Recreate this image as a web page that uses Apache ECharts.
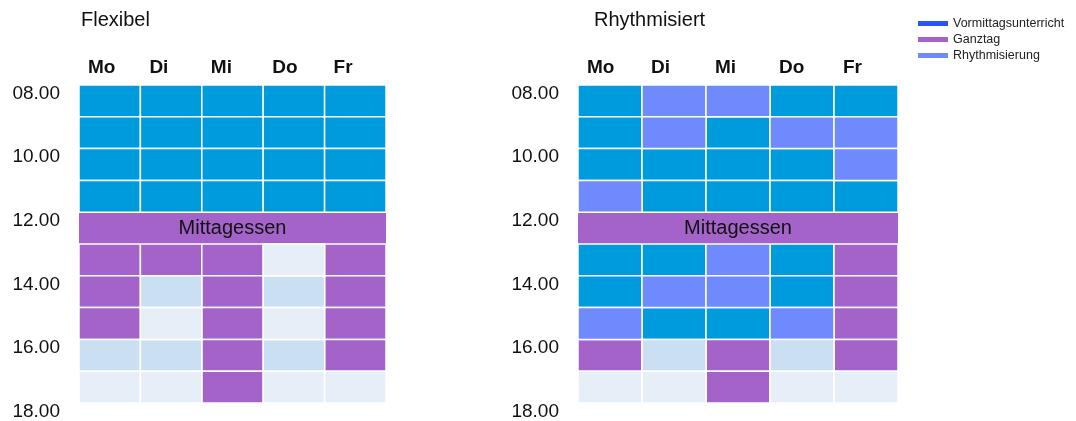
<!DOCTYPE html>
<html>
<head>
<meta charset="utf-8">
<script src="https://cdn.jsdelivr.net/npm/echarts@6/dist/echarts.min.js"></script>
<style>
  html, body { margin: 0; padding: 0; background: #fff; }
  #chart { width: 1076px; height: 421px; }
</style>
</head>
<body>
<div id="chart"></div>
<script>
// Stundenplan: eine Zeile pro Stunde ab 08.00
// V = Vormittagsunterricht, G = Ganztag, R = Rhythmisierung, M = Mittagessen, A/B = frei
var days = ["Mo", "Di", "Mi", "Do", "Fr"];
var hourTicks = ["08.00", "10.00", "12.00", "14.00", "16.00", "18.00"];
var startHour = 8;
var endHour = 18;
var titles = ["Flexibel", "Rhythmisiert"];

var flexibel = [
    ["V", "V", "V", "V", "V"],
    ["V", "V", "V", "V", "V"],
    ["V", "V", "V", "V", "V"],
    ["V", "V", "V", "V", "V"],
    ["M", "M", "M", "M", "M"],
    ["G", "G", "G", "B", "G"],
    ["G", "A", "G", "A", "G"],
    ["G", "B", "G", "B", "G"],
    ["A", "A", "G", "A", "G"],
    ["B", "B", "G", "B", "B"],
];

var rhythmisiert = [
    ["V", "R", "R", "V", "V"],
    ["V", "R", "V", "R", "R"],
    ["V", "V", "V", "V", "R"],
    ["R", "V", "V", "V", "V"],
    ["M", "M", "M", "M", "M"],
    ["V", "V", "R", "V", "G"],
    ["V", "R", "R", "V", "G"],
    ["R", "V", "V", "R", "G"],
    ["G", "A", "G", "A", "G"],
    ["B", "B", "G", "B", "B"],
];

var seriesNames = {
    V: "Vormittagsunterricht",
    G: "Ganztag",
    R: "Rhythmisierung",
    M: "Mittagessen",
    A: "frei",
    B: "frei ",
};
var cellColors = {
    V: "#009bdc",
    G: "#a463c9",
    R: "#6f8afd",
    M: "#a463c9",
    A: "#cbdff2",
    B: "#e6eef8",
};
var legendColors = {
    V: "#2a55f5",
    G: "#a463c9",
    R: "#6f8afd",
};

var fontFamily = "'Liberation Sans', Arial, sans-serif";

function cellRenderer(code) {
    return function (params, api) {
        var day = api.value(0);
        var hour = api.value(1);
        var span = api.value(2);
        var p = api.coord([day, hour]);
        var bw = api.size([1, 0])[0];
        var hh = api.size([0, 1])[1];
        if (code === "M") {
            // Mittagessen als durchgehender Block
            return {
                type: "group",
                children: [
                    {
                        type: "rect",
                        shape: { x: p[0] - bw / 2, y: p[1] + 0.75, width: bw * span, height: hh - 1.5 },
                        style: { fill: cellColors.M },
                    },
                    {
                        type: "text",
                        z2: 10,
                        style: {
                            text: seriesNames.M,
                            x: p[0] - bw / 2 + (bw * span) / 2,
                            y: p[1] + hh / 2,
                            align: "center",
                            verticalAlign: "middle",
                            fill: "#111",
                            fontSize: 20,
                            fontFamily: fontFamily,
                        },
                    },
                ],
            };
        }
        return {
            type: "rect",
            shape: { x: p[0] - bw / 2, y: p[1], width: bw * span, height: hh },
            style: { fill: cellColors[code], stroke: "#fff", lineWidth: 1.5 },
        };
    };
}

function headerRenderer(params, api) {
    var i = api.value(0);
    var p = api.coord([i, startHour]);
    var bw = api.size([1, 0])[0];
    return {
        type: "text",
        style: {
            text: days[i],
            x: p[0] - bw / 2 + 9,
            y: p[1] - 17,
            align: "left",
            verticalAlign: "middle",
            fill: "#111",
            fontSize: 19,
            fontWeight: "bold",
            fontFamily: fontFamily,
        },
    };
}

function buildSeries(plan, gridIdx) {
    var out = [];
    Object.keys(seriesNames).forEach(function (code) {
        var data = [];
        plan.forEach(function (row, r) {
            if (code === "M") {
                // gleiche Zellen einer Zeile zusammenfassen
                var d = 0;
                while (d < row.length) {
                    if (row[d] !== "M") { d++; continue; }
                    var s = d;
                    while (d < row.length && row[d] === "M") d++;
                    data.push([s, startHour + r, d - s]);
                }
                return;
            }
            row.forEach(function (c, d) {
                if (c === code) data.push([d, startHour + r, 1]);
            });
        });
        if (!data.length) return;
        out.push({
            type: "custom",
            name: seriesNames[code],
            xAxisIndex: gridIdx,
            yAxisIndex: gridIdx,
            renderItem: cellRenderer(code),
            data: data,
        });
    });
    out.push({
        type: "custom",
        name: "header" + gridIdx,
        xAxisIndex: gridIdx,
        yAxisIndex: gridIdx,
        renderItem: headerRenderer,
        data: days.map(function (d, i) {
            return [i, startHour];
        }),
    });
    return out;
}

function makeYAxis(gridIdx) {
    return {
        type: "value",
        gridIndex: gridIdx,
        inverse: true,
        min: startHour,
        max: endHour,
        interval: 2,
        axisLine: { show: false },
        axisTick: { show: false },
        splitLine: { show: false },
        axisLabel: {
            formatter: function (v) {
                return hourTicks[(v - startHour) / 2];
            },
            color: "#111",
            fontSize: 19,
            fontFamily: fontFamily,
            margin: 19,
            verticalAlign: "top",
            lineHeight: 17,
        },
    };
}

var chart = echarts.init(document.getElementById("chart"));

var option = {
    animation: false,
    backgroundColor: "#fff",
    title: [
        {
            text: titles[0],
            left: 76,
            top: 5,
            textStyle: { fontSize: 20, fontWeight: "normal", color: "#111", fontFamily: fontFamily },
        },
        {
            text: titles[1],
            left: 589,
            top: 5,
            textStyle: { fontSize: 20, fontWeight: "normal", color: "#111", fontFamily: fontFamily },
        },
    ],
    legend: {
        orient: "vertical",
        left: 913,
        top: 12,
        icon: "rect",
        itemWidth: 30,
        itemHeight: 5,
        itemGap: 3,
        textStyle: { fontSize: 12.5, color: "#222", fontFamily: fontFamily },
        data: ["V", "G", "R"].map(function (c) {
            return { name: seriesNames[c], itemStyle: { color: legendColors[c] } };
        }),
    },
    grid: [
        { left: 79, right: 690, top: 85, bottom: 17 },
        { left: 578, right: 178, top: 85, bottom: 17 },
    ],
    xAxis: [
        { type: "category", gridIndex: 0, data: days, show: false },
        { type: "category", gridIndex: 1, data: days, show: false },
    ],
    yAxis: [makeYAxis(0), makeYAxis(1)],
    series: buildSeries(flexibel, 0).concat(buildSeries(rhythmisiert, 1)),
};

chart.setOption(option);
</script>
</body>
</html>
